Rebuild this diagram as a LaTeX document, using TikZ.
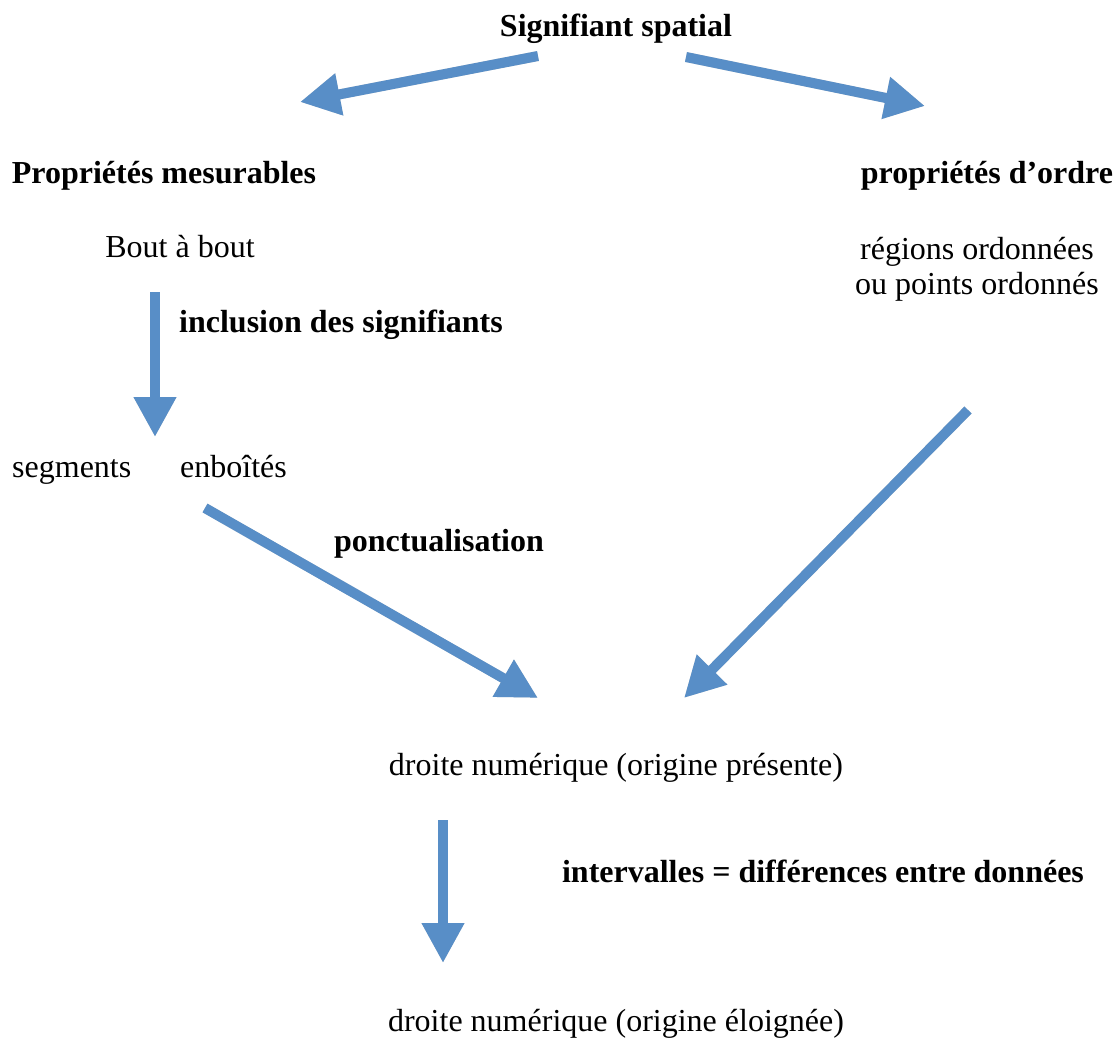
\documentclass[tikz,border=0pt]{standalone}
\usepackage{fontspec}
\setmainfont{Liberation Serif}
\usetikzlibrary{arrows.meta}
\definecolor{arrowblue}{RGB}{88,142,199}
\tikzset{
  lbl/.style={inner sep=0pt, anchor=base, font=\fontsize{32}{35}\selectfont},
  blbl/.style={lbl, font=\fontsize{32}{35}\selectfont\bfseries},
  bigarrow/.style={line width=10pt, draw=arrowblue, -{Triangle[length=40pt,width=40pt]}},
  arrowshadow/.style={line width=10pt, draw=black, opacity=.18, shift={(3,5)}, -{Triangle[length=40pt,width=40pt]}}
}
\begin{document}
\begin{tikzpicture}[x=1pt,y=-1pt]
    \useasboundingbox (0,0) rectangle (1117,1037);
    % texts
    \node[blbl] (sig) at (616,36) {Signifiant spatial};
    \node[blbl] (mes) at (164,183) {Propriétés mesurables};
    \node[blbl] (ord) at (987,183) {propriétés d’ordre};
    \node[lbl] (bout) at (180,257) {Bout à bout};
    \node[lbl, anchor=north, align=center] (reg) at (977,237) {régions ordonnées\\ou points ordonnés};
    \node[blbl, anchor=base west] (incl) at (179,332) {inclusion des signifiants};
    \node[lbl, anchor=base west] (seg) at (12,477) {segments};
    \node[lbl, anchor=base west] (enb) at (180,477) {enboîtés};
    \node[blbl] (ponct) at (439,551) {ponctualisation};
    \node[lbl] (dpres) at (616,775) {droite numérique (origine présente)};
    \node[blbl] (interv) at (823,882) {intervalles = différences entre données};
    \node[lbl] (deloi) at (616,1031) {droite numérique (origine éloignée)};
    % arrow ends
    \coordinate (a1) at (538,56);  \coordinate (b1) at (300,102);
    \coordinate (a2) at (686,57);  \coordinate (b2) at (925,106);
    \coordinate (a3) at (155,292); \coordinate (b3) at (155,437);
    \coordinate (a4) at (205,508); \coordinate (b4) at (538,698);
    \coordinate (a5) at (968,410); \coordinate (b5) at (684,698);
    \coordinate (a6) at (443,820); \coordinate (b6) at (443,963);
    \foreach \i in {1,...,6}{
    \draw[arrowshadow] (a\i)--(b\i);
    \draw[bigarrow] (a\i)--(b\i);}
\end{tikzpicture}
\end{document}
